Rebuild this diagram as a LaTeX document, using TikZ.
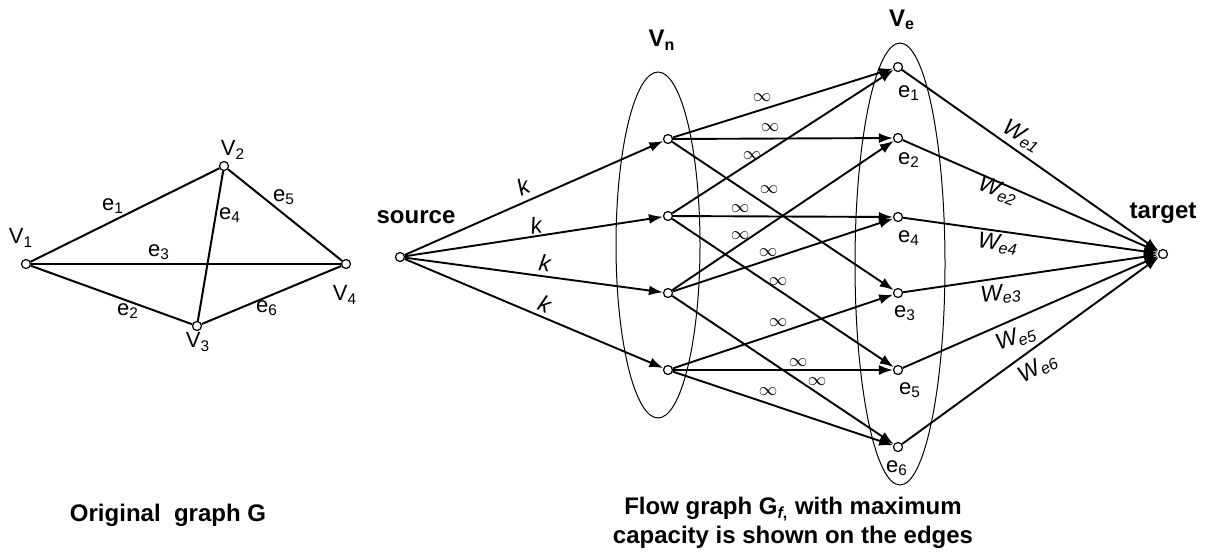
\documentclass[tikz,border=0pt]{standalone}
\usepackage{fontspec}
\setmainfont{Liberation Sans}
\usetikzlibrary{arrows.meta}
\newcommand\lsub[1]{\textsubscript{#1}}
\begin{document}
\begin{tikzpicture}[x=0.5pt,y=-0.5pt,
  vtx/.style={circle,draw,line width=0.6pt,fill=white,inner sep=0pt,minimum size=4.5pt},
  gline/.style={line width=1pt},
  flow/.style={line width=0.95pt,-{Latex[length=7pt,width=5pt]}},
  lbl/.style={inner sep=0pt,font=\fontsize{11}{13}\selectfont},
  inf/.style={inner sep=0pt,font=\fontsize{9}{9}\selectfont},
  wlbl/.style={inner sep=0pt,font=\fontsize{11.5}{13}\selectfont\itshape},
  capt/.style={inner sep=0pt,font=\fontsize{12}{14.5}\selectfont\bfseries,align=center},
  grp/.style={line width=0.5pt}
]
\useasboundingbox (0,0) rectangle (1215,554);

% ---------- original graph G ----------
\node[vtx] (a1) at (26,264) {};
\node[vtx] (a2) at (224,166) {};
\node[vtx] (a3) at (197,326) {};
\node[vtx] (a4) at (346,264) {};
\draw[gline] (a1) -- (a2);
\draw[gline] (a1) -- (a3);
\draw[gline] (a1) -- (a4);
\draw[gline] (a2) -- (a3);
\draw[gline] (a2) -- (a4);
\draw[gline] (a3) -- (a4);
\node[lbl] (la1) at (21,238) {V\lsub{1}};
\node[lbl] (la2) at (233,150) {V\lsub{2}};
\node[lbl] (la3) at (198,342) {V\lsub{3}};
\node[lbl] (la4) at (345,295) {V\lsub{4}};
\node[lbl] (ge1) at (113,206) {e\lsub{1}};
\node[lbl] (ge2) at (128,311) {e\lsub{2}};
\node[lbl] (ge3) at (159,252) {e\lsub{3}};
\node[lbl] (ge4) at (230,215) {e\lsub{4}};
\node[lbl] (ge5) at (284,197) {e\lsub{5}};
\node[lbl] (ge6) at (267,308) {e\lsub{6}};
\node[capt] (cap1) at (168,515) {Original\ \ graph G};

% ---------- flow graph ----------
\draw[grp] (658,245) ellipse [x radius=21pt, y radius=86.5pt];
\draw[grp] (900,264) ellipse [x radius=22.5pt, y radius=110.5pt];
\node[capt] (vn) at (662,40) {V\lsub{n}};
\node[capt] (ve) at (902,20) {V\lsub{e}};

\node[vtx] (s) at (400,257) {};
\node[vtx] (t) at (1163,254) {};
\node[vtx] (v1) at (668,139) {};
\node[vtx] (v2) at (668,216) {};
\node[vtx] (v3) at (668,293) {};
\node[vtx] (v4) at (668,370) {};
\node[vtx] (e1) at (898,67) {};
\node[vtx] (e2) at (898,138) {};
\node[vtx] (e4) at (898,217) {};
\node[vtx] (e3) at (898,293) {};
\node[vtx] (e5) at (898,370) {};
\node[vtx] (e6) at (898,447) {};

\node[capt] (ls) at (416,217) {source};
\node[capt] (lt) at (1163,213) {target};

% source to vertex layer
\draw[flow] (s) -- (v1);
\draw[flow] (s) -- (v2);
\draw[flow] (s) -- (v3);
\draw[flow] (s) -- (v4);
\node[wlbl,rotate=23.7] (k1) at (523,187) {k};
\node[wlbl,rotate=8.5] (k2) at (536,225) {k};
\node[wlbl,rotate=-7.9] (k3) at (545,263) {k};
\node[wlbl,rotate=-23.1] (k4) at (545,304) {k};

% vertex layer to edge layer
\draw[flow] (v1) -- (e1);
\draw[flow] (v1) -- (e2);
\draw[flow] (v1) -- (e3);
\draw[flow] (v2) -- (e1);
\draw[flow] (v2) -- (e4);
\draw[flow] (v2) -- (e5);
\draw[flow] (v3) -- (e2);
\draw[flow] (v3) -- (e4);
\draw[flow] (v3) -- (e6);
\draw[flow] (v4) -- (e3);
\draw[flow] (v4) -- (e5);
\draw[flow] (v4) -- (e6);
\node[inf] (i11) at (762,98) {$\infty$};
\node[inf] (i12) at (770,128) {$\infty$};
\node[inf] (i21) at (752,156) {$\infty$};
\node[inf] (i13) at (769,190) {$\infty$};
\node[inf] (i24) at (740,209) {$\infty$};
\node[inf] (i32) at (740,236) {$\infty$};
\node[inf] (i34) at (768,253) {$\infty$};
\node[inf] (i25) at (778,282) {$\infty$};
\node[inf] (i43) at (778,323) {$\infty$};
\node[inf] (i45) at (798,363) {$\infty$};
\node[inf] (i36) at (817,382) {$\infty$};
\node[inf] (i46) at (768,392) {$\infty$};

% edge layer labels
\node[lbl] (le1) at (909,93) {e\lsub{1}};
\node[lbl] (le2) at (909,160) {e\lsub{2}};
\node[lbl] (le4) at (909,238) {e\lsub{4}};
\node[lbl] (le3) at (905,313) {e\lsub{3}};
\node[lbl] (le5) at (910,390) {e\lsub{5}};
\node[lbl] (le6) at (897,468) {e\lsub{6}};

% edge layer to target
\draw[flow] (e1) -- (t);
\draw[flow] (e2) -- (t);
\draw[flow] (e4) -- (t);
\draw[flow] (e3) -- (t);
\draw[flow] (e5) -- (t);
\draw[flow] (e6) -- (t);
\node[wlbl,rotate=-30] (w1) at (1022,136) {W\lsub{e1}};
\node[wlbl,rotate=-20] (w2) at (998,191) {W\lsub{e2}};
\node[wlbl,rotate=-7] (w4) at (998,244) {W\lsub{e4}};
\node[wlbl,rotate=6] (w3) at (1001,294) {W\lsub{e3}};
\node[wlbl,rotate=20] (w5) at (1016,338) {W\lsub{e5}};
\node[wlbl,rotate=30] (w6) at (1038,368) {W\lsub{e6}};

\node[capt] (cap2) at (793,523) {Flow graph G\lsub{\textit{f},} with maximum\\capacity is shown on the edges};
\end{tikzpicture}
\end{document}
